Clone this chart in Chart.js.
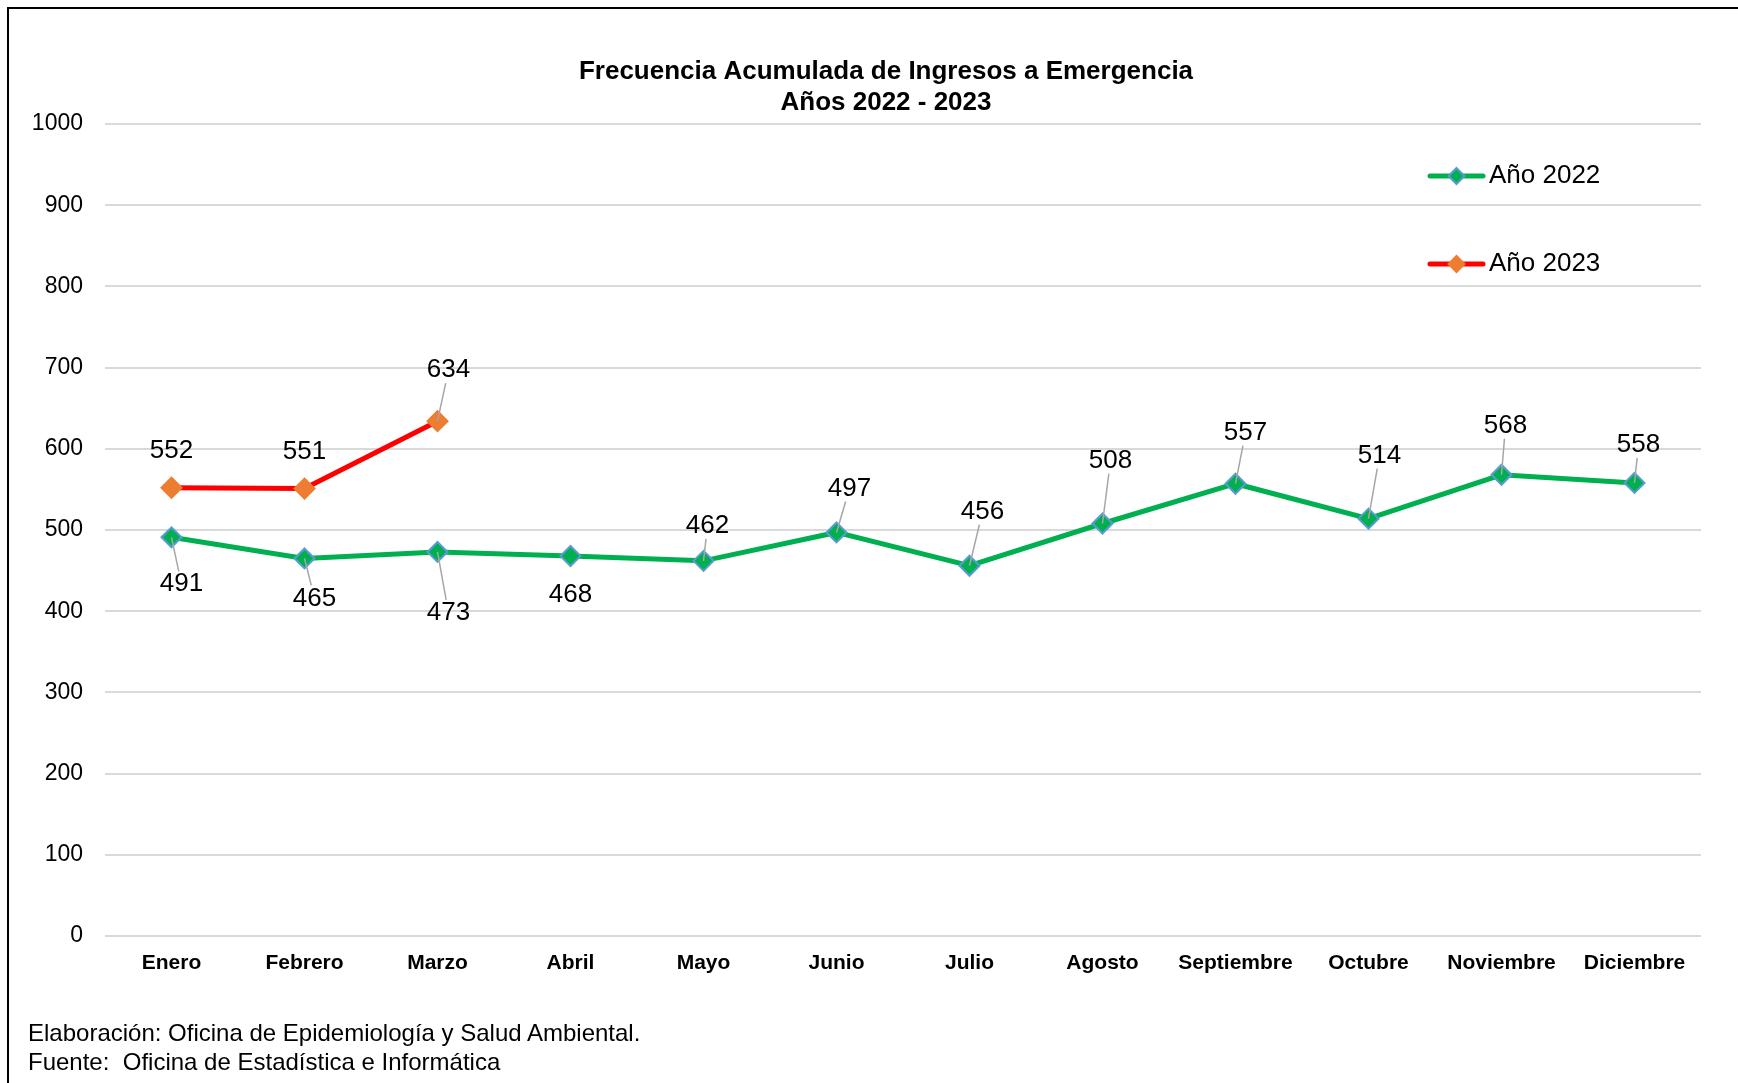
<!DOCTYPE html>
<html lang="es">
<head>
<meta charset="UTF-8" />
<title>Frecuencia Acumulada de Ingresos a Emergencia</title>
<script src="https://cdn.jsdelivr.net/npm/chart.js@4"></script>
<style>
  body { margin: 0; background: #fff; font-family: "Liberation Sans", Arial, sans-serif; }
  .wrap { position: relative; width: 1738px; height: 1083px; overflow: hidden; }
  .marco { position: absolute; left: 7px; top: 7px; right: -10px; bottom: -10px;
           border-left: 2px solid #000; border-top: 2px solid #000; pointer-events: none; }
  .nota { position: absolute; left: 28px; top: 1018px; font-size: 24px; line-height: 29px; color: #000; }
</style>
</head>
<body>
<div class="wrap">
  <canvas id="grafico" width="1738" height="1083"></canvas>
  <div class="marco"></div>
  <div class="nota">Elaboración: Oficina de Epidemiología y Salud Ambiental.<br>Fuente:&nbsp; Oficina de Estadística e Informática</div>
</div>

<script>
  // datos
  const meses = ['Enero', 'Febrero', 'Marzo', 'Abril', 'Mayo', 'Junio', 'Julio',
                 'Agosto', 'Septiembre', 'Octubre', 'Noviembre', 'Diciembre'];
  const anio2022 = [491, 465, 473, 468, 462, 497, 456, 508, 557, 514, 568, 558];
  const anio2023 = [552, 551, 634, null, null, null, null, null, null, null, null, null];
  const ticksY = [0, 100, 200, 300, 400, 500, 600, 700, 800, 900, 1000];
  const titulo = ['Frecuencia Acumulada de Ingresos a Emergencia', 'Años 2022 - 2023'];

  const fuente = '"Liberation Sans", Arial, sans-serif';

  // donde va cada etiqueta respecto a su punto: [dx, dy, linea guia]
  const posEtiquetas = [
    [[10, 47, true], [10, 40, true], [11, 61, true], [0, 39, false], [4, -35, true], [13, -44, true],
     [13, -54, true], [8, -63, true], [10, -51, true], [11, -63, true], [4, -49, true], [4, -38, true]],
    [[0, -37, false], [0, -37, false], [11, -51, true]]
  ];

  const etiquetas = {
    id: 'etiquetas',
    afterDatasetsDraw(chart) {
      const ctx = chart.ctx;
      ctx.save();
      ctx.font = '26px ' + fuente;
      ctx.textAlign = 'center';
      ctx.textBaseline = 'middle';
      chart.data.datasets.forEach((ds, i) => {
        const meta = chart.getDatasetMeta(i);
        meta.data.forEach((pt, j) => {
          const v = ds.data[j];
          if (v == null) return;
          const [dx, dy, guia] = posEtiquetas[i][j];
          const lx = pt.x + dx, ly = pt.y + dy;
          if (guia) {
            const t = (Math.abs(dy) - 13) / Math.abs(dy);
            ctx.strokeStyle = '#a6a6a6';
            ctx.lineWidth = 1.5;
            ctx.beginPath();
            ctx.moveTo(pt.x, pt.y);
            ctx.lineTo(pt.x + dx * t, pt.y + dy * t);
            ctx.stroke();
          }
          ctx.fillStyle = '#000';
          ctx.fillText(String(v), lx, ly);
        });
      });
      ctx.restore();
    }
  };

  // titulo en dos lineas y leyenda con linea + marcador
  const adornos = {
    id: 'adornos',
    afterDraw(chart) {
      const ctx = chart.ctx;
      ctx.save();
      ctx.fillStyle = '#000';
      ctx.font = 'bold 26px ' + fuente;
      ctx.textAlign = 'center';
      ctx.textBaseline = 'middle';
      ctx.fillText(titulo[0], 886, 72);
      ctx.fillText(titulo[1], 886, 103);

      const x0 = 1430, x1 = 1483, xm = (x0 + x1) / 2, filas = [176, 264];
      chart.data.datasets.forEach((ds, i) => {
        const y = filas[i];
        ctx.strokeStyle = ds.borderColor;
        ctx.lineWidth = 5;
        ctx.lineCap = 'round';
        ctx.beginPath();
        ctx.moveTo(x0, y);
        ctx.lineTo(x1, y);
        ctx.stroke();
        ctx.fillStyle = ds.pointBackgroundColor;
        ctx.strokeStyle = ds.pointBorderColor;
        ctx.lineWidth = 2;
        ctx.beginPath();
        ctx.moveTo(xm, y - 8);
        ctx.lineTo(xm + 8, y);
        ctx.lineTo(xm, y + 8);
        ctx.lineTo(xm - 8, y);
        ctx.closePath();
        ctx.fill();
        ctx.stroke();
        ctx.fillStyle = '#000';
        ctx.font = '26px ' + fuente;
        ctx.textAlign = 'left';
        ctx.fillText(ds.label, 1489, y);
      });
      ctx.restore();
    }
  };

  const ctx = document.getElementById('grafico');
  const grafico = new Chart(ctx, {
    type: 'line',
    data: {
      labels: meses,
      datasets: [
        {
          label: 'Año 2022',
          data: anio2022,
          borderColor: '#00b050',
          borderWidth: 5,
          pointStyle: 'rectRot',
          pointRadius: 10,
          pointBackgroundColor: '#00b050',
          pointBorderColor: '#5b9bd5',
          pointBorderWidth: 2,
          tension: 0
        },
        {
          label: 'Año 2023',
          data: anio2023,
          borderColor: '#ff0000',
          borderWidth: 5,
          pointStyle: 'rectRot',
          pointRadius: 10,
          pointBackgroundColor: '#ed7d31',
          pointBorderColor: '#ed7d31',
          pointBorderWidth: 2,
          tension: 0
        }
      ]
    },
    options: {
      responsive: false,
      animation: false,
      devicePixelRatio: 1,
      layout: { padding: { left: 8, right: 37, top: 124, bottom: 0 } },
      plugins: {
        legend: { display: false },
        tooltip: { enabled: false },
        title: { display: false }
      },
      scales: {
        x: {
          offset: true,
          grid: { display: false },
          border: { display: false },
          ticks: {
            color: '#000',
            font: { family: fuente, size: 21, weight: 'bold' },
            padding: 7,
            maxRotation: 0,
            autoSkip: false
          },
          afterFit(scale) { scale.height = 147; }
        },
        y: {
          min: 0,
          max: 1000,
          grid: { color: '#d9d9d9', lineWidth: 2, drawTicks: false },
          border: { display: false },
          ticks: {
            stepSize: 100,
            color: '#000',
            font: { family: fuente, size: 23 },
            padding: 22,
            callback: (v, i) => String(ticksY[i])
          },
          afterFit(scale) { scale.width = 97; }
        }
      }
    },
    plugins: [etiquetas, adornos]
  });
</script>
</body>
</html>
